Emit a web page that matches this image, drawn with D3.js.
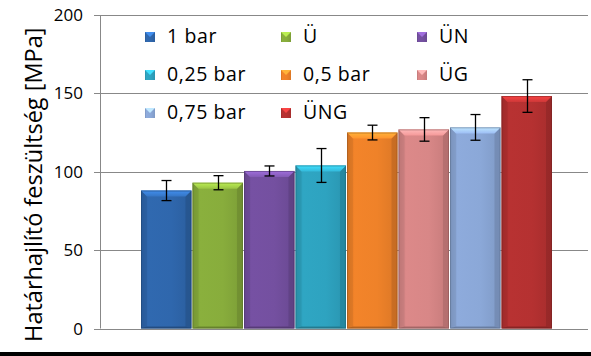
<!DOCTYPE html>
<html><head><meta charset="utf-8">
<script src="https://cdn.jsdelivr.net/npm/d3@7"></script>
<style>html,body{margin:0;padding:0;background:#fff;}svg{display:block;}</style>
</head><body>
<svg id="c" width="591" height="356"></svg>
<script>
const series = ["1 bar","Ü","ÜN","0,25 bar","0,5 bar","ÜG","0,75 bar","ÜNG"];
const values = [88, 93, 100.5, 104, 125, 127, 128.3, 148.3];
const errors = [6.4, 4.5, 3.2, 10.8, 4.7, 7.5, 8.2, 10.4];
const colors = ["#2f67ad","#88ad3c","#7450a0","#2ea3c0","#ef8229","#d88787","#8ba8d8","#b53131"];
const legendOrder = ["1 bar","Ü","ÜN","0,25 bar","0,5 bar","ÜG","0,75 bar","ÜNG"];
const yTicks = [0, 50, 100, 150, 200];
const yTitle = "Határhajlító feszültség [MPa]";

const svg = d3.select("#c");
const y = d3.scaleLinear().domain([0, 200]).range([328.5, 15]);
const x = d3.scaleBand().domain(series).range([141, 552]).paddingInner(0.02);

// gridlines
svg.append("g").selectAll("line").data(yTicks).join("line")
  .attr("x1", 94).attr("x2", 588)
  .attr("y1", d => Math.round(y(d)) + 0.5).attr("y2", d => Math.round(y(d)) + 0.5)
  .attr("stroke", "#888").attr("stroke-width", 1);
// axis line
svg.append("line").attr("x1", 100.5).attr("x2", 100.5)
  .attr("y1", y(200)).attr("y2", y(0)).attr("stroke", "#888");
// tick labels
svg.append("g").selectAll("text").data(yTicks).join("text")
  .attr("x", 83).attr("y", d => y(d) + 6)
  .attr("text-anchor", "end")
  .attr("font-family", "Open Sans").attr("font-size", 17).attr("fill", "#000")
  .text(d => d);

// title
svg.append("text")
  .attr("transform", `translate(42,${(y(0)+y(200))/2 + 13}) rotate(-90)`)
  .attr("text-anchor", "middle")
  .attr("font-family", "Open Sans").attr("font-size", 23.5).attr("fill", "#000")
  .text(yTitle);

// gradients
const defs = svg.append("defs");
colors.forEach((c, i) => {
  const g = defs.append("linearGradient").attr("id", "g" + i)
    .attr("x1", 0).attr("x2", 1).attr("y1", 0).attr("y2", 0);
  const base = d3.color(c);
  g.append("stop").attr("offset", "0%").attr("stop-color", base.darker(0.35));
  g.append("stop").attr("offset", "15%").attr("stop-color", base.brighter(0.05));
  g.append("stop").attr("offset", "60%").attr("stop-color", base);
  g.append("stop").attr("offset", "100%").attr("stop-color", base.darker(0.25));
  const gt = defs.append("linearGradient").attr("id", "t" + i)
    .attr("x1", 0).attr("x2", 0).attr("y1", 0).attr("y2", 1);
  gt.append("stop").attr("offset", "0%").attr("stop-color", base.brighter(0.9));
  gt.append("stop").attr("offset", "100%").attr("stop-color", base.brighter(0.35));
});

const bev = 6;
const bars = svg.append("g").selectAll("g").data(series).join("g");
bars.each(function(s, i) {
  const g = d3.select(this);
  const x0 = x(s), w = x.bandwidth(), y0 = y(values[i]), y1 = y(0);
  const base = d3.color(colors[i]);
  g.append("rect").attr("x", x0).attr("y", y0).attr("width", w).attr("height", y1 - y0)
    .attr("fill", `url(#g${i})`);
  // left side
  g.append("polygon").attr("points", [[x0,y0],[x0+bev,y0+bev],[x0+bev,y1-2],[x0,y1]].join(" "))
    .attr("fill", base.darker(0.4)).attr("opacity", 0.45);
  // right side
  g.append("polygon").attr("points", [[x0+w,y0],[x0+w-bev,y0+bev],[x0+w-bev,y1-2],[x0+w,y1]].join(" "))
    .attr("fill", base.darker(0.9)).attr("opacity", 0.45);
  // bottom
  g.append("polygon").attr("points", [[x0,y1],[x0+bev,y1-2],[x0+w-bev,y1-2],[x0+w,y1]].join(" "))
    .attr("fill", base.darker(1.2)).attr("opacity", 0.6);
  // top bevel
  g.append("polygon").attr("points", [[x0,y0],[x0+w,y0],[x0+w-bev,y0+bev],[x0+bev,y0+bev]].join(" "))
    .attr("fill", `url(#t${i})`);
  g.append("rect").attr("x", x0+0.5).attr("y", y0+0.5).attr("width", w-1).attr("height", y1-y0-1)
    .attr("fill", "none").attr("stroke", base.darker(1.3)).attr("stroke-opacity", 0.5);
});

// error bars
const eb = svg.append("g").attr("stroke", "#000").attr("stroke-width", 1.3);
series.forEach((s, i) => {
  const cx = Math.round(x(s) + x.bandwidth() / 2) + 0.5;
  const top = y(values[i] + errors[i]), bot = y(values[i] - errors[i]);
  eb.append("line").attr("x1", cx).attr("x2", cx).attr("y1", top).attr("y2", bot);
  eb.append("line").attr("x1", cx - 5).attr("x2", cx + 5).attr("y1", top).attr("y2", top);
  eb.append("line").attr("x1", cx - 5).attr("x2", cx + 5).attr("y1", bot).attr("y2", bot);
});

// legend
const lg = svg.append("g");
legendOrder.forEach((s, k) => {
  const i = series.indexOf(s);
  const col = k % 3, row = Math.floor(k / 3);
  const lx = 145 + col * 136, ly = 32 + row * 38;
  const base = d3.color(colors[i]);
  lg.append("rect").attr("x", lx).attr("y", ly).attr("width", 10).attr("height", 10)
    .attr("fill", `url(#g${i})`);
  lg.append("polygon").attr("points", [[lx,ly],[lx+10,ly],[lx+5,ly+5]].join(" "))
    .attr("fill", base.brighter(0.9));
  lg.append("text").attr("x", lx + 22).attr("y", ly + 10.5)
    .attr("font-family", "Open Sans").attr("font-size", 19.5).attr("letter-spacing", 0.6)
    .attr("fill", "#000").text(s);
});

// bottom black band
svg.append("rect").attr("x", 0).attr("y", 352).attr("width", 591).attr("height", 4).attr("fill", "#000");
</script>
</body></html>
